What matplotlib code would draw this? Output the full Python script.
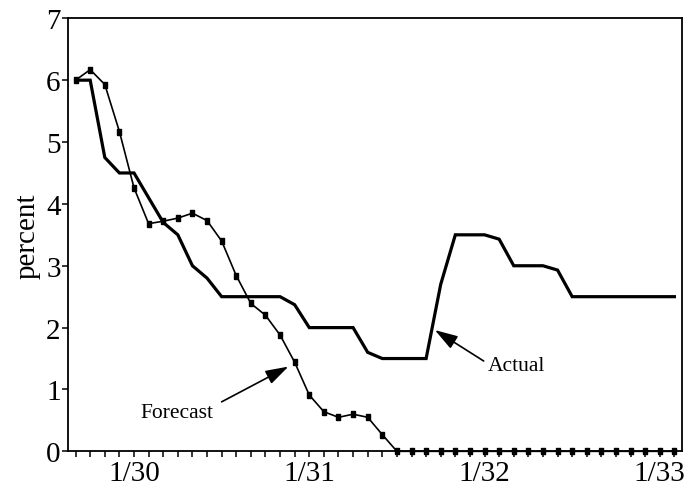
import numpy as np
import matplotlib
matplotlib.use('Agg')
import matplotlib.pyplot as plt
from matplotlib.ticker import FixedLocator, MultipleLocator

# months counted from January 1930 (0 = 1/30)
meses = list(range(-4, 38))

actual = [6.0, 6.0, 4.75, 4.5, 4.5, 4.1, 3.7, 3.5, 3.0, 2.8, 2.5, 2.5, 2.5, 2.5, 2.5,
          2.37, 2.0, 2.0, 2.0, 2.0, 1.6, 1.5, 1.5, 1.5, 1.5, 2.7, 3.5, 3.5, 3.5, 3.43,
          3.0, 3.0, 3.0, 2.93, 2.5, 2.5, 2.5, 2.5, 2.5, 2.5, 2.5, 2.5]

forecast = [6.0, 6.17, 5.93, 5.17, 4.26, 3.68, 3.72, 3.77, 3.85, 3.73, 3.40, 2.84, 2.39,
            2.2, 1.88, 1.44, 0.91, 0.64, 0.55, 0.60, 0.55, 0.27] + [0.0] * 20

anos_pos = [0, 12, 24, 36]
anos_lbl = ['1/30', '1/31', '1/32', '1/33']

plt.rcParams['font.family'] = ['Liberation Serif', 'DejaVu Serif']

fig = plt.figure(figsize=(6.87, 4.89), dpi=100)
ax = fig.add_axes([0.0994, 0.075, 0.8929, 0.8855])

# marcador retangular vertical
retangulo = [(-0.5, -1), (0.5, -1), (0.5, 1), (-0.5, 1), (-0.5, -1)]

ax.plot(meses, actual, color='black', lw=2.3, solid_joinstyle='miter', zorder=3)
ax.plot(meses, forecast, color='black', lw=1.2, marker=retangulo, markersize=5,
        markerfacecolor='black', markeredgecolor='black', clip_on=False, zorder=4)

ax.set_xlim(-4.5, 37.5)
ax.set_ylim(0, 7)
ax.xaxis.set_major_locator(FixedLocator(anos_pos))
ax.set_xticklabels(anos_lbl)
ax.xaxis.set_minor_locator(MultipleLocator(1))
ax.yaxis.set_major_locator(MultipleLocator(1))

ax.tick_params(axis='both', which='both', direction='out', length=4.5, width=1.1,
               labelsize=21, colors='black', pad=2)
ax.tick_params(axis='y', pad=1)
for s in ax.spines.values():
    s.set_linewidth(1.3)

ax.set_ylabel('percent', fontsize=21, labelpad=4)

# anotacoes
seta = dict(arrowstyle='-|>,head_length=0.7,head_width=0.22', mutation_scale=20,
            lw=1.2, color='black', shrinkA=0, shrinkB=0)
ax.text(2.95, 0.62, 'Forecast', fontsize=15.5, ha='center', va='center')
ax.annotate('', xy=(10.57, 1.37), xytext=(6.0, 0.80), arrowprops=seta)
ax.text(26.2, 1.38, 'Actual', fontsize=15.5, ha='center', va='center')
ax.annotate('', xy=(20.6, 1.96), xytext=(23.94, 1.46), arrowprops=seta)

plt.savefig('out.png', dpi=100)
